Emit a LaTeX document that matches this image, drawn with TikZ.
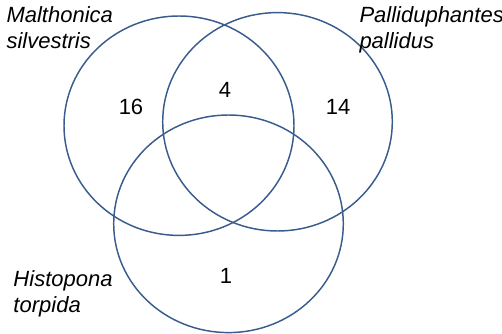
\documentclass[tikz,border=0pt]{standalone}
\usepackage{fontspec}
\setmainfont{Liberation Sans}
\definecolor{vennblue}{RGB}{58,92,140}

\begin{document}
\tikzset{every picture/.style={line width=0.75pt}}
\tikzset{venn/.style={draw=vennblue,line width=1.1pt},
	species/.style={anchor=north west,inner sep=0.75pt,align=left,font=\fontsize{16.5pt}{19.5pt}\selectfont\itshape},
	count/.style={inner sep=0.75pt,font=\fontsize{16.5pt}{19pt}\selectfont}}

\begin{tikzpicture}[x=0.75pt,y=0.75pt,yscale=-1,xscale=1]
	%set diagram left start at 0, and has height of 334
	\useasboundingbox (0,0) rectangle (502,334);
	
	%Shape: Ellipse [id:dp41736209815] 
	\draw  [venn] (179,125.7) ellipse (115 and 109.7) ;
	%Shape: Ellipse [id:dp90318442605] 
	\draw  [venn] (277.5,121.8) ellipse (114.8 and 109.2) ;
	%Shape: Ellipse [id:dp22671084931] 
	\draw  [venn] (228.5,223.8) ellipse (114.8 and 108.8) ;
	
	% Text Node
	\draw (5,5) node [species] (malth) {Malthonica\\silvestris};
	% Text Node
	\draw (358,5) node [species] (palli) {Palliduphantes\\pallidus};
	% Text Node
	\draw (12,269.5) node [species] (histo) {Histopona\\torpida};
	% Text Node
	\draw (131,107) node [count] (onlym) {16};
	% Text Node
	\draw (225,90) node [count] (mp) {4};
	% Text Node
	\draw (338,107) node [count] (onlyp) {14};
	% Text Node
	\draw (226,276) node [count] (onlyh) {1};
	
\end{tikzpicture}
\end{document}
